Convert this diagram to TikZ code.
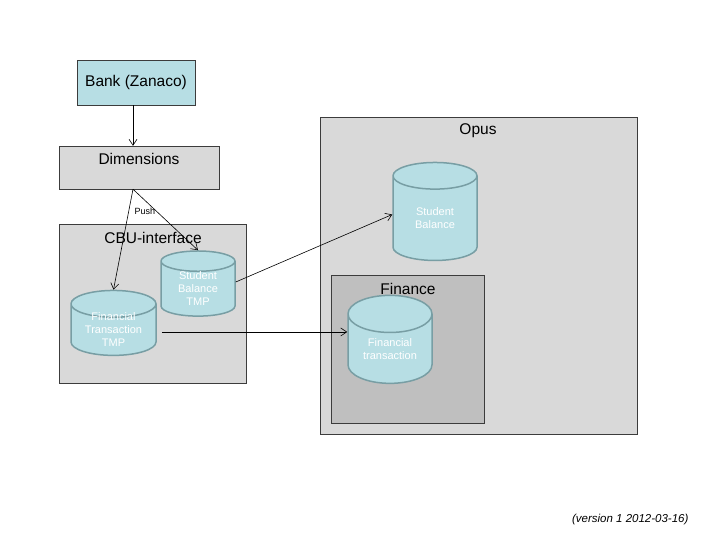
\documentclass[tikz,border=0pt]{standalone}
\usepackage{fontspec}
\setmainfont{Liberation Sans}
\usetikzlibrary{positioning,arrows.meta,shapes.geometric}
\definecolor{BankTeal}{RGB}{183,222,228}
\definecolor{BoxGray}{RGB}{217,217,217}
\definecolor{DarkGray}{RGB}{191,191,191}
\definecolor{EdgeGray}{RGB}{60,60,60}
\definecolor{DbEdge}{RGB}{120,158,164}
\tikzset{
  flow/.style={-{Straight Barb[length=6pt,width=8pt]},semithick,draw=black},
  tealbox/.style={draw=EdgeGray,fill=BankTeal,inner sep=0pt,font=\fontsize{15.5}{18}\selectfont},
  graybox/.style={draw=EdgeGray,fill=BoxGray,inner sep=0pt},
  financebox/.style={draw=EdgeGray,fill=DarkGray,inner sep=0pt},
  boxtitle/.style={font=\fontsize{15.5}{18}\selectfont,inner sep=0pt},
  db/.style={cylinder,shape border rotate=90,draw=DbEdge,line width=1.5pt,fill=BankTeal,
    text=white,align=center,inner sep=0pt,font=\fontsize{11}{13}\selectfont}
}
\begin{document}
\begin{tikzpicture}[x=1pt,y=-1pt]
  \useasboundingbox (0,0) rectangle (720,540);
  % containers
  \node[graybox,minimum width=317pt,minimum height=317pt] (opus) at (478.5,275.5) {};
  \node[boxtitle] (opustitle) at (478,131) {Opus};
  \node[financebox,minimum width=153pt,minimum height=148pt] (finance) at (407.5,349) {};
  \node[boxtitle] (financetitle) at (408,289) {Finance};
  \node[graybox,minimum width=187pt,minimum height=159pt] (cbu) at (152.5,303.5) {};
  \node[boxtitle] (cbutitle) at (153,238) {CBU-interface};
  \node[graybox,minimum width=160pt,minimum height=43pt] (dims) at (139,167.5) {};
  \node[boxtitle] (dimstitle) at (139,159) {Dimensions};
  \node[tealbox,minimum width=118pt,minimum height=45pt] (bank) at (136,82.5) {Bank (Zanaco)};
  % databases
  \node[db,minimum width=84pt,minimum height=98pt,aspect=0.67] (sbal) at (435,218.5) {Student\\Balance};
  \node[db,minimum width=84pt,minimum height=88pt,aspect=0.69] (fintr) at (390,349) {Financial\\transaction};
  \node[db,minimum width=74pt,minimum height=62pt,aspect=0.51] (sbaltmp) at (198,289) {Student\\Balance\\TMP};
  \node[db,minimum width=85pt,minimum height=63pt,aspect=0.47,inner ysep=-5pt] (fintrtmp) at (113.5,330) {Financial\\Transaction\\TMP};
  % connectors
  \coordinate (fork) at ([xshift=-6pt]dims.south);
  \draw[flow] (bank.south -| fork) -- (dims.north -| fork);
  \draw[flow] (fork) -- (fintrtmp.top);
  \draw[flow] (fork) -- node[pos=0.36,left,font=\fontsize{9}{10}\selectfont,inner sep=1pt] {Push} (sbaltmp.top);
  \draw[flow] ([yshift=7pt]sbaltmp.east) -- ([yshift=4pt]sbal.west);
  \draw[flow,shorten <=5pt] ([yshift=-2pt]fintrtmp.east) -- ([yshift=-2pt]fintrtmp.east -| fintr.west);
  \node[font=\fontsize{11.5}{13}\selectfont\itshape,anchor=east] (version) at (692,520) {(version 1 2012-03-16)};
\end{tikzpicture}
\end{document}
